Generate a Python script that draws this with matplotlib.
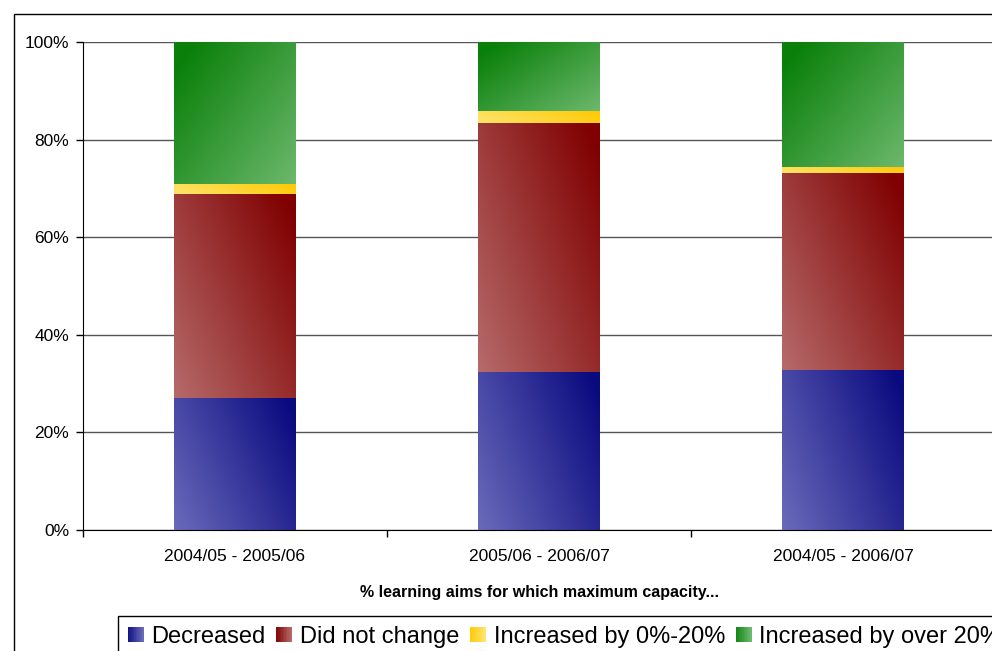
import numpy as np
import matplotlib
matplotlib.use('Agg')
from matplotlib import pyplot as plt
from matplotlib.colors import to_rgb
from matplotlib.patches import Rectangle, Patch
from matplotlib.legend_handler import HandlerBase

plt.rcParams['font.family'] = ['Liberation Sans', 'DejaVu Sans']

categories = ['2004/05 - 2005/06', '2005/06 - 2006/07', '2004/05 - 2006/07']
series_names = ['Decreased', 'Did not change', 'Increased by 0%-20%', 'Increased by over 20%']
decreased = [27.0, 32.4, 32.8]
did_not_change = [41.9, 51.0, 40.4]
increased_0_20 = [2.1, 2.5, 1.2]
increased_over_20 = [29.0, 14.1, 25.6]
y_ticks = [0, 20, 40, 60, 80, 100]
y_tick_labels = ['0%', '20%', '40%', '60%', '80%', '100%']

# gradient styles: (light colour, dark colour, weight along x, weight along y)
# t = wx*u + wy*v, where u runs left->right and v bottom->top
styles = [
    ('#6a6abb', '#0a0a80', 0.7, 0.35),
    ('#b66a6a', '#800000', 0.6, 0.45),
    ('#ffe46e', '#ffc800', 0.8, 0.2),
    ('#6cb86c', '#0a800a', -0.6, 0.5),
]


def gradient(light, dark, wx, wy, n=80):
    u, v = np.meshgrid(np.linspace(0, 1, n), np.linspace(0, 1, n))
    t = wx * u + wy * v
    if wx < 0:
        t = t - wx  # shift so the darkest corner is upper-left
    t = np.clip(t, 0, 1)
    lo = np.array(to_rgb(light))
    hi = np.array(to_rgb(dark))
    return lo + (hi - lo) * t[..., None]


class GradientSquare(HandlerBase):
    def __init__(self, light, dark):
        super().__init__()
        self.light = np.array(to_rgb(light))
        self.dark = np.array(to_rgb(dark))

    def create_artists(self, legend, orig_handle, xdescent, ydescent,
                       width, height, fontsize, trans):
        n = 10
        arts = []
        for i in range(n):
            c = self.light + (self.dark - self.light) * (1 - i / (n - 1)) * 0.9
            r = Rectangle((-xdescent + i * width / n, -ydescent),
                          width / n * 1.05, height,
                          facecolor=c, edgecolor='none', transform=trans)
            arts.append(r)
        return arts


fig = plt.figure(figsize=(9.92, 6.51), dpi=100)
ax = fig.add_axes([83 / 992, 121 / 651, 912 / 992, 488 / 651])

x = np.arange(len(categories))
bottom = np.zeros(len(categories))
all_series = [decreased, did_not_change, increased_0_20, increased_over_20]
for vals, (light, dark, wx, wy) in zip(all_series, styles):
    bars = ax.bar(x, vals, width=0.4, bottom=bottom, color=dark,
                  edgecolor='none', zorder=2)
    img = gradient(light, dark, wx, wy)
    for p in bars:
        x0, y0 = p.get_x(), p.get_y()
        im = ax.imshow(img, extent=(x0, x0 + p.get_width(), y0, y0 + p.get_height()),
                       origin='lower', aspect='auto', interpolation='bilinear',
                       zorder=3)
        im.set_clip_path(p)
    bottom += np.array(vals)

ax.set_xlim(-0.5, 2.5)
ax.set_ylim(0, 100)

for s in ['top', 'right']:
    ax.spines[s].set_visible(False)
ax.spines['left'].set_color('black')
ax.spines['bottom'].set_color('black')
ax.spines['left'].set_zorder(4)
ax.spines['bottom'].set_zorder(4)

ax.set_yticks(y_ticks)
ax.set_yticklabels(y_tick_labels, fontsize=12.5)
ax.tick_params(axis='y', direction='out', length=5, width=1, pad=5, color='black')
ax.yaxis.grid(True, color='#555555', linewidth=1.0, zorder=1)
ax.set_axisbelow(True)

ax.set_xticks(x)
ax.set_xticklabels(categories, fontsize=12.5)
ax.set_xticks([-0.5, 0.5, 1.5, 2.5], minor=True)
ax.tick_params(axis='x', which='major', length=0, pad=14)
ax.tick_params(axis='x', which='minor', direction='out', length=5, width=1, color='black')

ax.set_xlabel('% learning aims for which maximum capacity...', fontsize=11.5,
              fontweight='bold', labelpad=14.5)

# outer chart frame
fig.patches.append(Rectangle((14 / 992, -0.1), 1.2, 1.1 - 14 / 651, fill=False,
                             edgecolor='black', linewidth=1,
                             transform=fig.transFigure, figure=fig))

handles = [Patch(label=n) for n in series_names]
hmap = {h: GradientSquare(st[0], st[1]) for h, st in zip(handles, styles)}
leg = fig.legend(handles=handles, handler_map=hmap, ncol=4, fontsize=17,
                 loc='upper left', bbox_to_anchor=(118 / 992, 1 - 616 / 651),
                 bbox_transform=fig.transFigure, borderaxespad=0, borderpad=0.42,
                 handlelength=0.67, handleheight=0.63, handletextpad=0.33,
                 columnspacing=0.45, fancybox=False, framealpha=1,
                 edgecolor='black')
leg.get_frame().set_linewidth(1)

fig.savefig('out.png', dpi=100)
